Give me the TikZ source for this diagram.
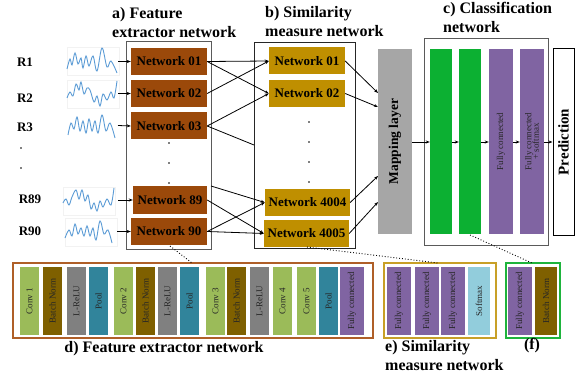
\documentclass[tikz,border=0pt]{standalone}
\usepackage{fontspec}
\setmainfont{Liberation Serif}
\usetikzlibrary{arrows.meta}
\definecolor{febrown}{RGB}{155,73,10}
\definecolor{simgold}{RGB}{191,143,0}
\definecolor{mapgray}{RGB}{166,166,166}
\definecolor{clgreen}{RGB}{12,176,50}
\definecolor{fcpurple}{RGB}{128,100,162}
\definecolor{convgreen}{RGB}{155,187,89}
\definecolor{bnbrown}{RGB}{127,96,0}
\definecolor{relugray}{RGB}{128,128,128}
\definecolor{poolteal}{RGB}{49,132,155}
\definecolor{smblue}{RGB}{146,205,220}
\definecolor{dborder}{RGB}{175,95,40}
\definecolor{eborder}{RGB}{200,160,40}
\definecolor{fborder}{RGB}{30,180,60}
\definecolor{wavebl}{RGB}{91,155,213}
\definecolor{boxgray}{RGB}{90,90,90}
\tikzset{
  title/.style={font=\bfseries\fontsize{16}{19}\selectfont, align=left, inner sep=0},
  rlabel/.style={font=\bfseries\fontsize{13}{14}\selectfont, inner sep=0},
  fenet/.style={fill=febrown, inner sep=0, minimum width=76pt, minimum height=27pt, font=\bfseries\fontsize{13}{14}\selectfont},
  simnet/.style={fill=simgold, inner sep=0, minimum height=27pt, font=\bfseries\fontsize{13}{14}\selectfont},
  bar/.style={rotate=90, inner sep=0, minimum width=185pt, font=\fontsize{9}{9.5}\selectfont, text=black!85, align=center},
  blk/.style={rotate=90, inner sep=0, minimum width=68pt, minimum height=19pt, font=\fontsize{9}{9.5}\selectfont, text=black!85},
  conn/.style={line width=0.8pt, -{Stealth[length=4pt,width=3pt]}},
  plain/.style={line width=0.8pt},
  dotline/.style={line width=0.9pt, dotted},
  wave/.style={wavebl, line width=0.9pt},
  waveframe/.style={draw=black!5, line width=0.5pt},
  smalldot/.style={circle, fill=black, inner sep=0, minimum size=1.6pt},
}
\begin{document}
\begin{tikzpicture}[x=1pt,y=-1pt]
\useasboundingbox (0,0) rectangle (576,377);

% titles
\node[title, anchor=north west] (ta) at (112,7) {a) Feature\\extractor network};
\node[title, anchor=north west] (tb) at (265,6) {b) Similarity\\measure network};
\node[title, anchor=north west] (tc) at (443,2) {c) Classification\\network};

% row labels
\node[rlabel] (r1) at (25,62) {R1};
\node[rlabel] (r2) at (25,98) {R2};
\node[rlabel] (r3) at (25,127) {R3};
\node[smalldot] (ld1) at (21,148) {};
\node[smalldot] (ld2) at (21,168) {};
\node[rlabel] (r89) at (30,199) {R89};
\node[rlabel] (r90) at (30,231) {R90};

% waves
\begin{scope}[shift={(67,47)}]
\draw[waveframe] (0,0) rectangle (52,28);
\draw[wave] plot[smooth, tension=0.6] coordinates {(0,22) (3,12) (5,18) (8,6) (11,17) (14,11) (16,21) (19,9) (22,19) (26,9) (30,24) (35,1) (40,20) (44,14) (50,26)};
\end{scope}
\begin{scope}[shift={(67,80)}]
\draw[waveframe] (0,0) rectangle (52,28);
\draw[wave] plot[smooth, tension=0.6] coordinates {(0,18) (3,12) (6,16) (9,4) (12,10) (14,2) (17,14) (20,8) (23,10) (27,22) (30,16) (33,26) (36,14) (40,20) (44,12) (47,18) (50,1)};
\end{scope}
\begin{scope}[shift={(68,113)}]
\draw[wave] plot[smooth, tension=0.6] coordinates {(0,22) (3,10) (6,16) (9,4) (12,18) (15,8) (18,20) (21,6) (24,18) (27,8) (30,20) (34,2) (38,18) (42,10) (47,25)};
\end{scope}
\begin{scope}[shift={(63,187)}]
\draw[waveframe] (0,0) rectangle (52,28);
\draw[wave] plot[smooth, tension=0.6] coordinates {(0,16) (3,12) (6,18) (9,10) (13,3) (16,12) (19,3) (22,14) (25,8) (28,22) (31,16) (34,24) (37,14) (40,20) (44,12) (48,18) (51,1)};
\end{scope}
\begin{scope}[shift={(65,218)}]
\draw[waveframe] (0,0) rectangle (52,28);
\draw[wave] plot[smooth, tension=0.6] coordinates {(0,20) (4,12) (7,18) (10,6) (13,16) (16,10) (19,18) (22,8) (25,18) (28,10) (31,22) (35,3) (39,16) (43,12) (47,25)};
\end{scope}
\coordinate (w1) at (118,61.5);
\coordinate (w2) at (118,93.5);
\coordinate (w3) at (118,125.5);
\coordinate (w89) at (118,200);
\coordinate (w90) at (117,231.5);

% feature extractor network box
\draw[draw=boxgray, line width=1pt] (126,42) rectangle (211,249);
\node[fenet] (f1) at (169,61.5) {Network 01};
\node[fenet] (f2) at (169,93.5) {Network 02};
\node[fenet] (f3) at (169,126) {Network 03};
\node[fenet, minimum width=74pt] (f89) at (170,200) {Network 89};
\node[fenet] (f90) at (169,231.5) {Network 90};
\node[smalldot] (fd1) at (169,143) {};
\node[smalldot] (fd2) at (169,163) {};
\node[smalldot] (fd3) at (169,183) {};

% similarity measure network box
\draw[draw=black!85, line width=0.9pt] (254,42) rectangle (355,248);
\node[simnet, minimum width=76pt] (s1) at (307,61) {Network 01};
\node[simnet, minimum width=76pt] (s2) at (307,93.5) {Network 02};
\node[simnet, minimum width=85pt] (s4004) at (307.5,202.5) {Network 4004};
\node[simnet, minimum width=85pt] (s4005) at (306.5,233.5) {Network 4005};
\node[smalldot] (sd1) at (309,122) {};
\node[smalldot] (sd2) at (309,142) {};
\node[smalldot] (sd3) at (309,162) {};
\node[smalldot] (sd4) at (309,182) {};

% wave -> fe arrows
\draw[conn] (w1) -- (f1.west);
\draw[conn] (w2) -- (f2.west);
\draw[conn] (w3) -- (f3.west);
\draw[conn] (w89) -- (f89.west);
\draw[conn] (w90) -- (f90.west);

% fe -> sim connections
\coordinate (fedge) at (211,186);
\coordinate (sedge) at (254,145);
\draw[conn] (f1.east) -- (s1.west);
\draw[conn] (f1.east) -- (s2.west);
\draw[conn] (f2.east) -- (s1.west);
\draw[conn] (f3.east) -- (s2.west);
\draw[plain] (f3.east) -- (sedge);
\draw[conn] (fedge) -- (s4004.west);
\draw[conn] (f89.east) -- (s4005.west);
\draw[conn] (f90.east) -- (s4004.west);
\draw[conn] (f90.east) -- (s4005.west);

% mapping layer
\node[fill=mapgray, rotate=90, inner sep=0, minimum width=185pt, minimum height=34pt, font=\bfseries\fontsize{13.5}{14}\selectfont] (map) at (395,141.5) {Mapping layer};
\coordinate (m1) at (378,93);
\coordinate (m2) at (378,107);
\coordinate (m3) at (378,176);
\coordinate (m4) at (378,202);
\draw[conn] (s1.east) -- (m1);
\draw[conn] (s2.east) -- (m2);
\draw[conn] (s4004.east) -- (m3);
\draw[conn] (s4005.east) -- (m4);

% classification network
\draw[draw=boxgray, line width=1pt] (424,39) rectangle (548,245);
\node[bar, fill=clgreen, minimum height=22pt] (g1) at (441,141.5) {};
\node[bar, fill=clgreen, minimum height=22pt] (g2) at (470,141.5) {};
\node[bar, fill=fcpurple, minimum height=24pt] (p1) at (501,141.5) {Fully connected};
\node[bar, fill=fcpurple, minimum height=24pt] (p2) at (532,141.5) {Fully connected\\[-2pt]+ softmax};
\node[draw=black, line width=1pt, fill=white, rotate=90, inner sep=0, minimum width=186pt, minimum height=21pt, font=\bfseries\fontsize{15}{16}\selectfont] (pred) at (563.5,142) {Prediction};
\draw[conn] (map.south |- 0,142) -- (g1.north |- 0,142);
\draw[conn] (g1.south |- 0,142) -- (g2.north |- 0,142);
\draw[conn] (g2.south |- 0,142) -- (p1.north |- 0,142);
\draw[conn] (p1.south |- 0,142) -- (p2.north |- 0,142);
\draw[conn] (p2.south |- 0,142) -- (pred.north |- 0,142);

% d) feature extractor detail
\draw[draw=dborder, line width=2pt] (13,263) rectangle (373,338);
\node[blk, fill=convgreen] (d1) at (29.5,301) {Conv 1};
\node[blk, fill=bnbrown] (d2) at (52.5,301) {Batch Norm};
\node[blk, fill=relugray] (d3) at (76.5,301) {L-ReLU};
\node[blk, fill=poolteal] (d4) at (98.5,301) {Pool};
\node[blk, fill=convgreen] (d5) at (123.5,301) {Conv 2};
\node[blk, fill=bnbrown] (d6) at (145.5,301) {Batch Norm};
\node[blk, fill=relugray] (d7) at (167.5,301) {L-ReLU};
\node[blk, fill=poolteal] (d8) at (189.5,301) {Pool};
\node[blk, fill=convgreen] (d9) at (215.5,301) {Conv 3};
\node[blk, fill=bnbrown] (d10) at (236.5,301) {Batch Norm};
\node[blk, fill=relugray] (d11) at (259.5,301) {L-ReLU};
\node[blk, fill=convgreen] (d12) at (282.5,301) {Conv 4};
\node[blk, fill=convgreen] (d13) at (306.5,301) {Conv 5};
\node[blk, fill=poolteal] (d14) at (328.5,301) {Pool};
\node[blk, fill=fcpurple, minimum height=24pt] (d15) at (352,301) {Fully connected};
\node[title] (td) at (164,349) {d) Feature extractor network};

% e) similarity detail
\draw[draw=eborder, line width=2pt] (384,263) rectangle (496,338);
\node[blk, fill=fcpurple, minimum height=24pt] (e1) at (399,301) {Fully connected};
\node[blk, fill=fcpurple, minimum height=24pt] (e2) at (427,301) {Fully connected};
\node[blk, fill=fcpurple, minimum height=24pt] (e3) at (453,301) {Fully connected};
\node[blk, fill=smblue, minimum height=22pt] (e4) at (479,301) {Softmax};
\node[title, anchor=north west] (te) at (385,340) {e) Similarity\\measure network};

% f) classification detail
\draw[draw=fborder, line width=2pt] (506,263) rectangle (560,338);
\node[blk, fill=fcpurple, minimum height=24pt] (f1d) at (520,301) {Fully connected};
\node[blk, fill=bnbrown, minimum height=22pt] (f2d) at (546,301) {Batch Norm};
\node[title] (tf) at (532,346) {(f)};

% dotted zoom lines
\coordinate (z1a) at (170,246);
\coordinate (z1b) at (192,263);
\coordinate (z2a) at (307,247);
\coordinate (z2b) at (438,263);
\coordinate (z3a) at (470,235);
\coordinate (z3b) at (532,263);
\draw[dotline] (z1a) -- (z1b);
\draw[dotline] (z2a) -- (z2b);
\draw[dotline] (z3a) -- (z3b);
\end{tikzpicture}
\end{document}
